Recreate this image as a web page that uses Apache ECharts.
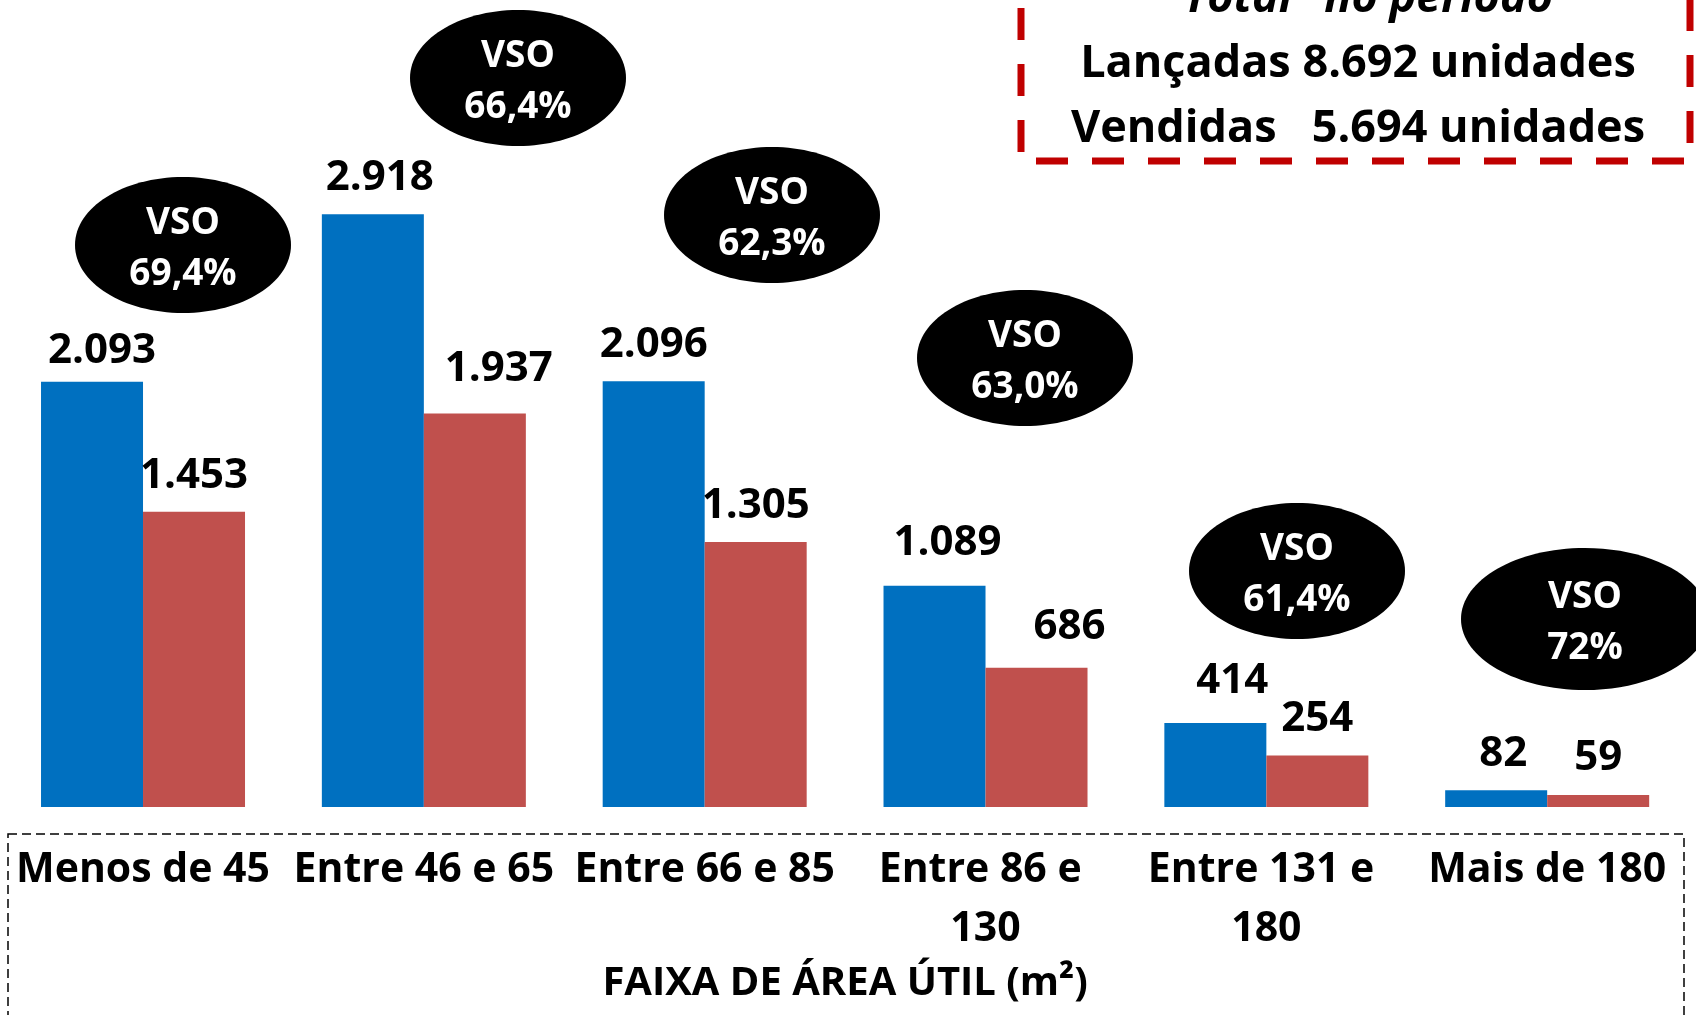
<!DOCTYPE html>
<html>
<head>
<meta charset="utf-8">
<script src="https://cdn.jsdelivr.net/npm/echarts@6/dist/echarts.min.js"></script>
<style>
html,body{margin:0;padding:0;background:#fff;}
#chart{width:1696px;height:1015px;}
</style>
</head>
<body>
<div id="chart"></div>
<script>
// ---- data ----
const categories = ['Menos de 45', 'Entre 46 e 65', 'Entre 66 e 85', 'Entre 86 e 130', 'Entre 131 e 180', 'Mais de 180'];
const lancadas = [2093, 2918, 2096, 1089, 414, 82];
const vendidas = [1453, 1937, 1305, 686, 254, 59];
const vsoLabels = ['69,4%', '66,4%', '62,3%', '63,0%', '61,4%', '72%'];
const totalLancadas = '8.692';
const totalVendidas = '5.694';
const axisTitle = 'FAIXA DE ÁREA ÚTIL (m²)';

// ---- layout / style (not data) ----
const FONT = '"Open Sans", "Noto Sans", sans-serif';
const blueLabelOffsets = [[10, 5], [7, 0], [0, 0], [13, -7], [17, -6], [7, 0]];
const redLabelOffsets = [[0, 0], [24, -8], [0, 0], [33, -5], [0, 0], [0, -1]];
const ellipseLayout = [
  {cx: 183, cy: 245, rx: 108, ry: 68},
  {cx: 518, cy: 78, rx: 108, ry: 68},
  {cx: 772, cy: 215, rx: 108, ry: 68},
  {cx: 1025, cy: 358, rx: 108, ry: 68},
  {cx: 1297, cy: 571, rx: 108, ry: 68},
  {cx: 1585, cy: 619, rx: 124, ry: 71}
];

function fmt(v) {
  return String(v).replace(/\B(?=(\d{3})+(?!\d))/g, '.');
}

function buildItems(values, offsets) {
  return values.map((v, i) => ({
    value: v,
    label: {offset: offsets[i]}
  }));
}

const labelStyle = {
  show: true,
  position: 'top',
  distance: 15,
  color: '#000',
  fontSize: 42,
  fontWeight: 'bold',
  fontFamily: FONT,
  formatter: p => fmt(p.value)
};

const graphics = [];
// bottom dashed box
graphics.push({
  type: 'rect',
  shape: {x: 8, y: 834, width: 1676, height: 300},
  style: {fill: 'none', stroke: '#000', lineWidth: 1.5, lineDash: [9, 5]},
  z: 0
});
// top-right red dashed box
graphics.push({
  type: 'rect',
  shape: {x: 1021, y: -60, width: 669, height: 221},
  style: {fill: '#fff', stroke: '#C00000', lineWidth: 7, lineDash: [32, 24]},
  z: 1
});
graphics.push({
  type: 'text', x: 1358, y: -1, z: 2,
  style: {text: '"Total" no período', fill: '#000', font: 'italic bold 45px ' + FONT, align: 'center', verticalAlign: 'middle'}
});
graphics.push({
  type: 'text', x: 1358, y: 64, z: 2,
  style: {text: 'Lançadas ' + totalLancadas + ' unidades', fill: '#000', font: 'bold 45px ' + FONT, align: 'center', verticalAlign: 'middle'}
});
graphics.push({
  type: 'text', x: 1358, y: 129, z: 2,
  style: {text: 'Vendidas   ' + totalVendidas + ' unidades', fill: '#000', font: 'bold 45px ' + FONT, align: 'center', verticalAlign: 'middle'}
});
// VSO ellipses
ellipseLayout.forEach((e, i) => {
  graphics.push({
    type: 'ellipse', z: 3,
    shape: {cx: e.cx, cy: e.cy, rx: e.rx, ry: e.ry},
    style: {fill: '#000'}
  });
  graphics.push({
    type: 'text', z: 4, x: e.cx, y: e.cy + 4,
    style: {text: 'VSO\n' + vsoLabels[i], fill: '#fff', font: 'bold 37px ' + FONT, lineHeight: 51, align: 'center', verticalAlign: 'middle'}
  });
});

const chart = echarts.init(document.getElementById('chart'), null, {renderer: 'canvas'});
chart.setOption({
  animation: false,
  backgroundColor: '#fff',
  grid: {left: 2.6, right: 8.4, top: 96, bottom: 208, containLabel: false},
  xAxis: {
    type: 'category',
    data: categories,
    axisLine: {show: false},
    axisTick: {show: false},
    axisLabel: {
      interval: 0,
      margin: 34,
      color: '#000',
      fontSize: 41,
      fontWeight: 'bold',
      fontFamily: FONT,
      lineHeight: 59,
      width: 280,
      overflow: 'break'
    },
    name: axisTitle,
    nameLocation: 'middle',
    nameGap: 152,
    nameTextStyle: {color: '#000', fontSize: 40, fontWeight: 'bold', fontFamily: FONT}
  },
  yAxis: {
    type: 'value',
    min: 0,
    max: 3500,
    show: false,
    splitLine: {show: false}
  },
  series: [
    {
      name: 'Lançadas',
      type: 'bar',
      data: buildItems(lancadas, blueLabelOffsets),
      barWidth: 102,
      barGap: '0%',
      itemStyle: {color: '#0070C0'},
      label: labelStyle
    },
    {
      name: 'Vendidas',
      type: 'bar',
      data: buildItems(vendidas, redLabelOffsets),
      barWidth: 102,
      barGap: '0%',
      itemStyle: {color: '#C0504D'},
      label: labelStyle
    }
  ],
  graphic: graphics
});
</script>
</body>
</html>
